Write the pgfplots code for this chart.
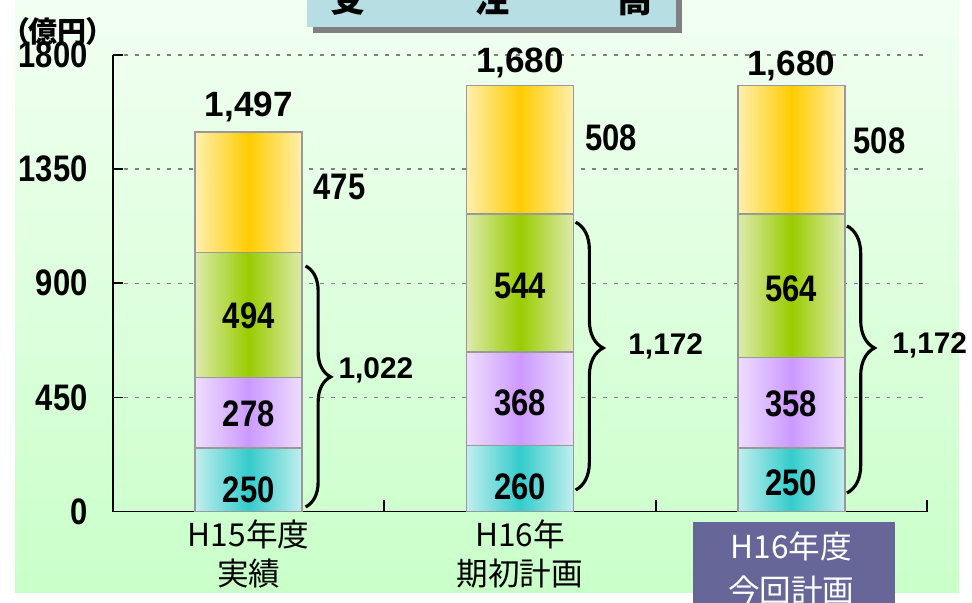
\documentclass[border=0pt]{standalone}
\usepackage{fontspec}
\setmainfont{Liberation Sans}
\newfontfamily\nb{Liberation Sans}[FakeStretch=0.84]
\newfontfamily\jp{Noto Sans CJK JP}
\newfontfamily\jpp{Noto Sans CJK JP}[RawFeature=+palt]
\usepackage{pgfplots}
\pgfplotsset{compat=1.18}
\usetikzlibrary{decorations.pathreplacing}

\definecolor{bgtop}{HTML}{F2FFF2}
\definecolor{bgbot}{HTML}{C9FFC9}
\definecolor{titlebox}{HTML}{B7DEE3}
\definecolor{catbox}{HTML}{666699}
\definecolor{barline}{HTML}{999999}
\definecolor{cyanC}{HTML}{33CCCC}
\definecolor{cyanE}{HTML}{C2EEEE}
\definecolor{purpC}{HTML}{CC99FF}
\definecolor{purpE}{HTML}{EEDDFF}
\definecolor{grnC}{HTML}{99CC00}
\definecolor{grnE}{HTML}{DDEBAE}
\definecolor{ylwC}{HTML}{FFCC00}
\definecolor{ylwE}{HTML}{FFEFAE}

\tikzset{
  seglab/.style={inner sep=0pt, font=\nb\bfseries\fontsize{21}{21}\selectfont},
  totlab/.style={inner sep=0pt, font=\bfseries\fontsize{20}{20}\selectfont},
  sublab/.style={inner sep=0pt, anchor=west, font=\bfseries\fontsize{17}{17}\selectfont},
  brc/.style 2 args={decorate, decoration={brace, amplitude=#1, aspect=#2}, line width=1.8pt},
}
\pgfplotsset{
  seg/.style 2 args={left color=#2, right color=#2, middle color=#1,
    draw=barline, line width=0.9pt},
}

\begin{document}
\begin{tikzpicture}
% panel, title, unit (pixel units, y down)
\begin{scope}[x=0.02cm,y=-0.02cm]
  \shade[top color=bgtop, bottom color=bgbot] (15,0) rectangle (959,592);
  \fill[catbox] (693,522) rectangle (895,640);
  \fill[gray] (313,-40) rectangle (682,33);
  \fill[titlebox] (307,-40) rectangle (676,27);
  \node[inner sep=0] at (491.5,-1)
    {\jp\bfseries\fontsize{20}{20}\selectfont\makebox[6.46cm][s]{受\hfill 注\hfill 高}};
  \node[anchor=west, inner sep=0] at (14,31)
    {\jpp\bfseries\fontsize{16.5}{16.5}\selectfont （億円）};
\end{scope}

% each bar is drawn as overlapping columns (cumulative tops), one plot per
% column so that every bar gets its own left-to-right shading
\begin{axis}[
  at={(2.26cm,-10.23cm)}, anchor=south west,
  scale only axis, width=16.28cm, height=9.13cm,
  xmin=-0.5, xmax=2.5, ymin=0, ymax=1800,
  ybar, bar shift=0pt, bar width=2.14cm,
  axis lines*=left, axis line style={-, line width=1.1pt},
  clip=false,
  ytick={0,450,900,1350,1800},
  xtick={0,1},
  xticklabels={H15年度\\実績, H16年\\期初計画},
  extra x ticks={2},
  extra x tick labels={H16年度\\今回計画},
  extra x tick style={xticklabel style={text=white, yshift=-0.25cm,
    font=\jp\fontsize{18}{25}\selectfont}},
  minor xtick={0.5,1.5,2.5},
  tick align=inside,
  major tick length=0.2cm,
  minor tick length=0.24cm,
  tick style={black, line width=1pt},
  major x tick style={draw=none},
  ymajorgrids,
  major grid style={gray, line width=0.8pt, dash pattern=on 2.2pt off 4pt},
  x tick label style={font=\jp\fontsize{18}{22.7}\selectfont, align=center,
    anchor=north, inner sep=0pt, yshift=-0.15cm},
  y tick label style={font=\nb\bfseries\fontsize{21}{21}\selectfont,
    inner sep=0pt, xshift=-0.5cm},
  /pgf/number format/assume math mode=true,
  /pgf/number format/1000 sep={},
]
% H15 actual: 250 + 278 + 494 + 475
\addplot[seg={ylwC}{ylwE}]  coordinates {(0,1497)};
\addplot[seg={grnC}{grnE}]  coordinates {(0,1022)};
\addplot[seg={purpC}{purpE}] coordinates {(0,528)};
\addplot[seg={cyanC}{cyanE}] coordinates {(0,250)};
% H16 initial plan: 260 + 368 + 544 + 508
\addplot[seg={ylwC}{ylwE}]  coordinates {(1,1680)};
\addplot[seg={grnC}{grnE}]  coordinates {(1,1172)};
\addplot[seg={purpC}{purpE}] coordinates {(1,628)};
\addplot[seg={cyanC}{cyanE}] coordinates {(1,260)};
% H16 current plan: 250 + 358 + 564 + 508
\addplot[seg={ylwC}{ylwE}]  coordinates {(2,1680)};
\addplot[seg={grnC}{grnE}]  coordinates {(2,1172)};
\addplot[seg={purpC}{purpE}] coordinates {(2,608)};
\addplot[seg={cyanC}{cyanE}] coordinates {(2,250)};

% anchors for the values written inside the bars (drawn after the axis)
\coordinate (a1) at (axis cs:0,85);
\coordinate (a2) at (axis cs:0,385);
\coordinate (a3) at (axis cs:0,771);
\coordinate (b1) at (axis cs:1,96);
\coordinate (b2) at (axis cs:1,428);
\coordinate (b3) at (axis cs:1,889);
\coordinate (c1) at (axis cs:2,112);
\coordinate (c2) at (axis cs:2,424);
\coordinate (c3) at (axis cs:2,877);

\node[seglab, anchor=west] at (axis cs:0.238,1279) {475};
\node[seglab, anchor=west] at (axis cs:1.2395,1473) {508};
\node[seglab, anchor=west] at (axis cs:2.228,1461) {508};

% totals
\node[totlab] at (axis cs:0,1595) {1,497};
\node[totlab] at (axis cs:1,1768) {1,680};
\node[totlab] at (axis cs:2,1756) {1,680};

% braces and subtotals
\draw[brc={0.5cm}{0.46}] (axis cs:0.21,968) -- (axis cs:0.21,18);
\draw[brc={0.55cm}{0.47}] (axis cs:1.205,1141) -- (axis cs:1.205,85);
\draw[brc={0.55cm}{0.457}] (axis cs:2.205,1126) -- (axis cs:2.205,73);
\node[sublab] at (axis cs:0.330,558) {1,022};
\node[sublab] at (axis cs:1.398,653) {1,172};
\node[sublab] at (axis cs:2.371,656) {1,172};
\end{axis}

\node[seglab] at (a1) {250};
\node[seglab] at (a2) {278};
\node[seglab] at (a3) {494};
\node[seglab] at (b1) {260};
\node[seglab] at (b2) {368};
\node[seglab] at (b3) {544};
\node[seglab] at (c1) {250};
\node[seglab] at (c2) {358};
\node[seglab] at (c3) {564};

\pgfresetboundingbox
\path (0,0) rectangle (19.44cm,-12.06cm);
\end{tikzpicture}
\end{document}
